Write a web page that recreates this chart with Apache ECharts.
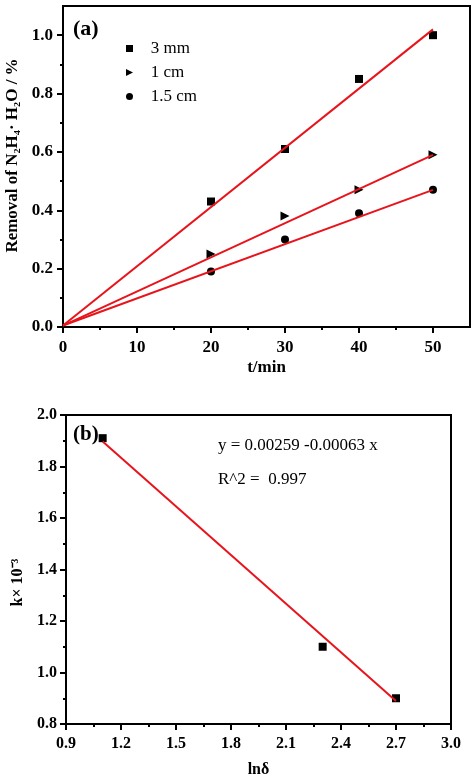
<!DOCTYPE html>
<html>
<head>
<meta charset="utf-8">
<script src="https://cdn.jsdelivr.net/npm/echarts@6/dist/echarts.min.js"></script>
<style>
html, body { margin: 0; padding: 0; background: #fff; }
#chart { width: 472px; height: 780px; }
</style>
</head>
<body>
<div id="chart"></div>
<script>
// ---- panel (a): removal vs time ----
var tMin = [20, 30, 40, 50];
var rm3mm = [0.43, 0.61, 0.85, 1.00];
var rm1cm = [0.25, 0.38, 0.47, 0.59];
var rm15cm = [0.19, 0.30, 0.39, 0.47];
// fitted lines, end points
var fitT = [0, 50];
var fit3mm = [0.005, 1.02];
var fit1cm = [0.005, 0.59];
var fit15cm = [0.005, 0.47];
var xTicksA = [0, 10, 20, 30, 40, 50];
var xMinorA = [5, 15, 25, 35, 45];
var yTicksA = [0, 0.2, 0.4, 0.6, 0.8, 1.0];
var yMinorA = [0.1, 0.3, 0.5, 0.7, 0.9];

// ---- panel (b): k vs ln(delta) ----
var lnD = [1.1, 2.3, 2.7];
var kVal = [1.91, 1.10, 0.90];
var fitLnD = [1.1, 2.7];
var fitK = [1.897, 0.889];
var xTicksB = [0.9, 1.2, 1.5, 1.8, 2.1, 2.4, 2.7, 3.0];
var xMinorB = [1.05, 1.35, 1.65, 1.95, 2.25, 2.55, 2.85];
var yTicksB = [0.8, 1.0, 1.2, 1.4, 1.6, 1.8, 2.0];
var yMinorB = [0.9, 1.1, 1.3, 1.5, 1.7, 1.9];

var serif = "'Liberation Serif', 'Times New Roman', serif";
var red = '#e8141c';
var markStyle = { color: '#000', opacity: 1 };
var rightTri = 'path://M0,0 L10,5 L0,10 Z';

function pairs(xs, ys) {
  return xs.map(function (x, i) { return [x, ys[i]]; });
}

function mainAxis(grid, pos, min, max, ticks, fmt, margin, fsize, name, nameGap, nameSize, namePad) {
  return {
    type: 'value', gridIndex: grid, position: pos, min: min, max: max,
    name: name, nameLocation: 'middle', nameGap: nameGap,
    nameTextStyle: { fontFamily: serif, fontWeight: 'bold', fontSize: nameSize, color: '#000',
      padding: namePad || 0 },
    axisLine: { show: true, onZero: false, lineStyle: { color: '#000', width: 2 } },
    axisTick: { show: true, inside: false, length: 6, customValues: ticks, lineStyle: { color: '#000', width: 2 } },
    axisLabel: { show: true, customValues: ticks, formatter: fmt, margin: margin, color: '#000',
      fontFamily: serif, fontWeight: 'bold', fontSize: fsize },
    splitLine: { show: false },
    minorTick: { show: false }
  };
}

// second axis on the same side, only for the short minor ticks
function minorAxis(grid, pos, min, max, ticks) {
  return {
    type: 'value', gridIndex: grid, position: pos, min: min, max: max,
    axisLine: { show: false, onZero: false },
    axisTick: { show: true, inside: false, length: 3, customValues: ticks, lineStyle: { color: '#000', width: 2 } },
    axisLabel: { show: false },
    splitLine: { show: false }
  };
}

function fixed1(v) { return v.toFixed(1); }
function intFmt(v) { return String(Math.round(v)); }

var chart = echarts.init(document.getElementById('chart'));
var option = {
  animation: false,
  backgroundColor: '#fff',
  grid: [
    { left: 63, top: 6, width: 407, height: 321, show: true, borderColor: '#000', borderWidth: 2,
      outerBoundsMode: 'none', containLabel: false },
    { left: 66, top: 415, width: 385, height: 309, show: true, borderColor: '#000', borderWidth: 2,
      outerBoundsMode: 'none', containLabel: false }
  ],
  xAxis: [
    mainAxis(0, 'bottom', 0, 55, xTicksA, intFmt, 12, 17, 't/min', 32, 17),
    minorAxis(0, 'bottom', 0, 55, xMinorA),
    mainAxis(1, 'bottom', 0.9, 3.0, xTicksB, fixed1, 12, 16, 'lnδ', 38, 16),
    minorAxis(1, 'bottom', 0.9, 3.0, xMinorB)
  ],
  yAxis: [
    mainAxis(0, 'left', 0, 1.1, yTicksA, fixed1, 10, 17, 'Removal of N₂H₄· H₂O / %', 42, 17, [0, 0, 0, 22]),
    minorAxis(0, 'left', 0, 1.1, yMinorA),
    mainAxis(1, 'left', 0.8, 2.0, yTicksB, fixed1, 9, 16, 'k× 10⁻³', 38, 16, [0, 26, 0, 0]),
    minorAxis(1, 'left', 0.8, 2.0, yMinorB)
  ],
  legend: {
    data: [
      { name: '3 mm', icon: 'rect' },
      { name: '1 cm', icon: rightTri },
      { name: '1.5 cm', icon: 'circle' }
    ],
    orient: 'vertical',
    left: 126, top: 40,
    itemWidth: 7, itemHeight: 7, itemGap: 7,
    padding: 0,
    itemStyle: { color: '#000', opacity: 1 },
    formatter: function (n) { return '   ' + n; },
    textStyle: { fontFamily: serif, fontSize: 17, color: '#000' }
  },
  graphic: [
    { type: 'text', left: 73, top: 18, style: { text: '(a)', font: 'bold 22px ' + serif, fill: '#000' } },
    { type: 'text', left: 73, top: 424, style: { text: '(b)', font: 'bold 21px ' + serif, fill: '#000' } },
    { type: 'text', left: 218, top: 437, style: { text: 'y = 0.00259 -0.00063 x', font: '17px ' + serif, fill: '#000' } },
    { type: 'text', left: 218, top: 471, style: { text: 'R^2 =  0.997', font: '17px ' + serif, fill: '#000' } }
  ],
  series: [
    { name: '3 mm', type: 'scatter', xAxisIndex: 0, yAxisIndex: 0, symbol: 'rect', symbolSize: 8,
      itemStyle: markStyle, data: pairs(tMin, rm3mm), z: 3 },
    { name: '1 cm', type: 'scatter', xAxisIndex: 0, yAxisIndex: 0, symbol: 'triangle', symbolRotate: -90, symbolSize: 9,
      itemStyle: markStyle, data: pairs(tMin, rm1cm), z: 3 },
    { name: '1.5 cm', type: 'scatter', xAxisIndex: 0, yAxisIndex: 0, symbol: 'circle', symbolSize: 8,
      itemStyle: markStyle, data: pairs(tMin, rm15cm), z: 3 },
    { name: 'fit 3 mm', type: 'line', xAxisIndex: 0, yAxisIndex: 0, showSymbol: false, symbol: 'none',
      lineStyle: { color: red, width: 2 }, data: pairs(fitT, fit3mm), z: 4 },
    { name: 'fit 1 cm', type: 'line', xAxisIndex: 0, yAxisIndex: 0, showSymbol: false, symbol: 'none',
      lineStyle: { color: red, width: 2 }, data: pairs(fitT, fit1cm), z: 4 },
    { name: 'fit 1.5 cm', type: 'line', xAxisIndex: 0, yAxisIndex: 0, showSymbol: false, symbol: 'none',
      lineStyle: { color: red, width: 2 }, data: pairs(fitT, fit15cm), z: 4 },
    { name: 'k', type: 'scatter', xAxisIndex: 2, yAxisIndex: 2, symbol: 'rect', symbolSize: 8,
      itemStyle: markStyle, data: pairs(lnD, kVal), z: 3 },
    { name: 'fit k', type: 'line', xAxisIndex: 2, yAxisIndex: 2, showSymbol: false, symbol: 'none',
      lineStyle: { color: red, width: 2 }, data: pairs(fitLnD, fitK), z: 4 }
  ]
};
chart.setOption(option);
</script>
</body>
</html>
